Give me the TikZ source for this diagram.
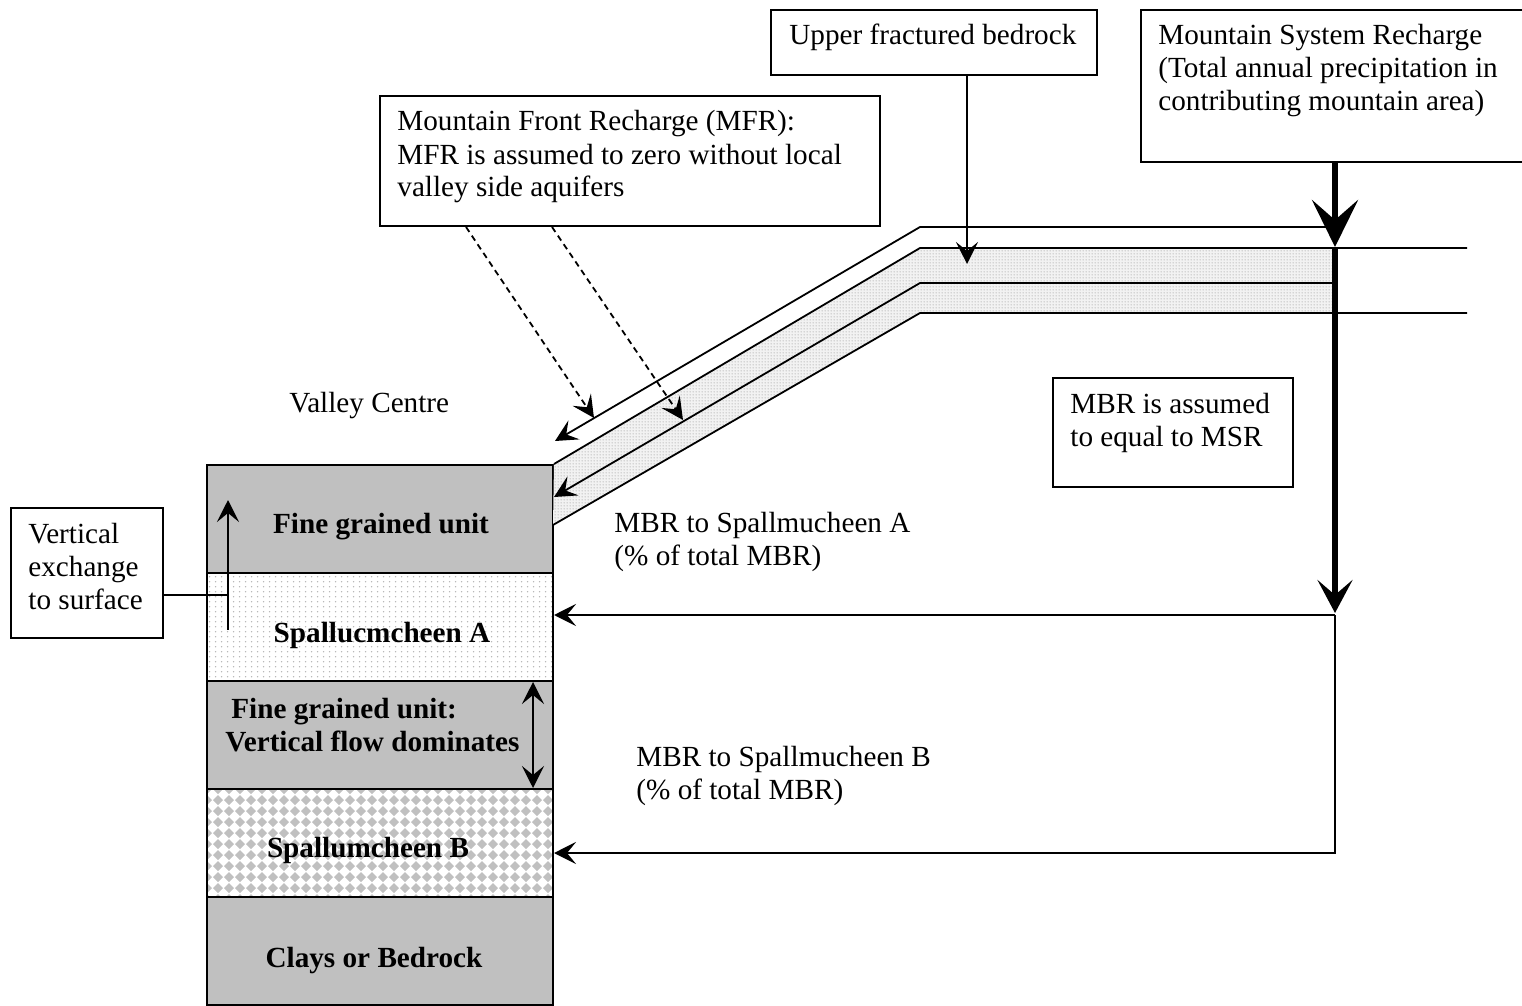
\documentclass[tikz,border=0pt]{standalone}
\usepackage{fontspec}
\setmainfont{Liberation Serif}
\usetikzlibrary{arrows.meta,fit,patterns}

\definecolor{layergray}{RGB}{192,192,192}

% sparse grey dots (sand) and fine grey dots (fractured rock)
\pgfdeclarepatternformonly{sparsedots}{\pgfqpoint{0pt}{0pt}}{\pgfqpoint{2.8pt}{2.6pt}}{\pgfqpoint{2.8pt}{2.6pt}}%
  {\pgfpathcircle{\pgfqpoint{1.4pt}{1.3pt}}{0.4pt}\pgfusepath{fill}}
\pgfdeclarepatternformonly{finedots}{\pgfqpoint{0pt}{0pt}}{\pgfqpoint{1.3pt}{1.3pt}}{\pgfqpoint{1.3pt}{1.3pt}}%
  {\pgfpathcircle{\pgfqpoint{0.65pt}{0.65pt}}{0.38pt}\pgfusepath{fill}}

\tikzset{
  box/.style={draw, line width=1pt, inner sep=0pt, fill=white},
  layer/.style={draw, line width=1pt, inner sep=0pt},
  % multi-line texts are placed by the baseline of their last line
  txt/.style={font=\fontsize{14.6}{16.5}\selectfont, inner sep=0pt, align=left, anchor=base west},
  btxt/.style={font=\fontsize{14.6}{16.5}\selectfont\bfseries, inner sep=0pt, anchor=base},
  thinline/.style={line width=0.9pt},
  headarrow/.style={-{Stealth[length=11pt,width=11pt,inset=4.5pt]}},
  headboth/.style={{Stealth[length=11pt,width=11pt,inset=4.5pt]}-{Stealth[length=11pt,width=11pt,inset=4.5pt]}},
  feedline/.style={line width=1.4pt, headarrow},
  dasharrow/.style={line width=0.9pt, dash pattern=on 3pt off 2.2pt, headarrow},
  bigarrow/.style={line width=3.2pt, -{Stealth[length=23.5pt,width=23pt,inset=10pt]}},
  midarrow/.style={line width=3.2pt, -{Stealth[length=16.5pt,width=17.5pt,inset=7.5pt]}},
}

\begin{document}
\begin{tikzpicture}[x=0.5pt, y=-0.5pt, line join=miter]
\useasboundingbox (0,0) rectangle (1522,1006);
\clip (0,0) rectangle (1522,1006);
\fill[white] (0,0) rectangle (1522,1006);

% ---------- valley-centre column ----------
\node[layer, fill=layergray, fit={(207,465)(553,573)}] (fineA) {};
\node[layer, preaction={fill=white}, pattern=sparsedots, pattern color=gray!60,
      fit={(207,573)(553,681)}] (spA) {};
\node[layer, fill=layergray, fit={(207,681)(553,789)}] (fineB) {};
\begin{scope}
  \clip (207,789) rectangle (553,897);
  \fill[white] (207,789) rectangle (553,897);
  \foreach \i in {0,...,32}
    \foreach \j in {0,...,10}
      \fill[layergray] ({207+\i*11-5},{789+\j*11}) -- ++(5,-5) -- ++(5,5) -- ++(-5,5) -- cycle;
\end{scope}
\node[layer, fit={(207,789)(553,897)}] (spB) {};
\node[layer, fill=layergray, fit={(207,897)(553,1005)}] (clay) {};

\node[btxt] at (381,533) {Fine grained unit};
\node[btxt] at (382,642) {Spallucmcheen A};
\node[btxt, align=left, anchor=base west] at (225,751) {\hspace{3pt}Fine grained unit:\\Vertical flow dominates};
\node[btxt] at (368,857) {Spallumcheen B};
\node[btxt] at (374,967) {Clays or Bedrock};

% ---------- sloping strata of the valley side ----------
\path[preaction={fill=gray!10}, pattern=finedots, pattern color=gray!55]
  (fineA.north east) -- (920,248) -- (1335,248) -- (1335,313) -- (920,313) -- (553,525) -- cycle;
\draw[thinline] (1467,248) -- (920,248) -- (fineA.north east);
\draw[thinline] (1467,313) -- (920,313) -- (553,525);
\coordinate (toptip) at (555,441);
\coordinate (midtip) at (554,497);
\draw[thinline, headarrow] (1335,227) -- (920,227) -- (toptip);
\draw[thinline, headarrow] (1335,283) -- (920,283) -- (midtip);

% ---------- boxes ----------
\node[box, fit={(380,96)(880,226)}] (mfr) {};
\node[box, fit={(771,10)(1097,75)}] (ufb) {};
\node[box, fit={(1141,10)(1540,162)}] (msr) {};
\node[box, fit={(1053,378)(1293,487)}] (mbr) {};
\node[box, fit={(11,508)(163,638)}] (vex) {};

\node[txt] at (397,197) {Mountain Front Recharge (MFR):\\MFR is assumed to zero without local\\valley side aquifers};
\node[txt] at (789,45) {Upper fractured bedrock};
\node[txt] at (1158,111) {Mountain System Recharge\\(Total annual precipitation in\\contributing mountain area)};
\node[txt] at (1070,446) {MBR is assumed\\to equal to MSR};
\node[txt] at (28,609) {Vertical\\exchange\\to surface};
\node[txt] at (289,412) {Valley Centre};
\node[txt] at (614,565) {MBR to Spallmucheen A\\(\% of total MBR)};
\node[txt] at (636,799) {MBR to Spallmucheen B\\(\% of total MBR)};

% ---------- recharge arrows ----------
\coordinate (mfrtip1) at (594,418);
\coordinate (mfrtip2) at (683,420);
\draw[dasharrow] ([xshift=43.5pt]mfr.south west) -- (mfrtip1);
\draw[dasharrow] ([xshift=86.5pt]mfr.south west) -- (mfrtip2);

\coordinate (ufbtip) at (967,264);
\draw[thinline, headarrow] (ufbtip |- ufb.south) -- (ufbtip);

\coordinate (mstop) at (1335,247);
\coordinate (mbtip) at (1335,613);
\coordinate (split) at (1335,615);
\coordinate (bend) at (1335,853);
\draw[bigarrow] (mstop |- msr.south) -- (mstop);
\draw[midarrow] (mstop) -- (mbtip);
\draw[feedline] (split) -- (spA.east |- split);
\draw[feedline] (split) -- (bend) -- (spB.east |- bend);

% ---------- exchange arrows in the column ----------
\coordinate (vxlow) at (228,630);
\coordinate (vxhigh) at (228,500);
\coordinate (vxjoin) at (228,595);
\draw[thinline, headarrow] (vxlow) -- (vxhigh);
\draw[thinline] (vex.east |- vxjoin) -- (vxjoin);
\coordinate (vfa) at (533,682);
\coordinate (vfb) at (533,788);
\draw[thinline, headboth] (vfa) -- (vfb);
\end{tikzpicture}
\end{document}
